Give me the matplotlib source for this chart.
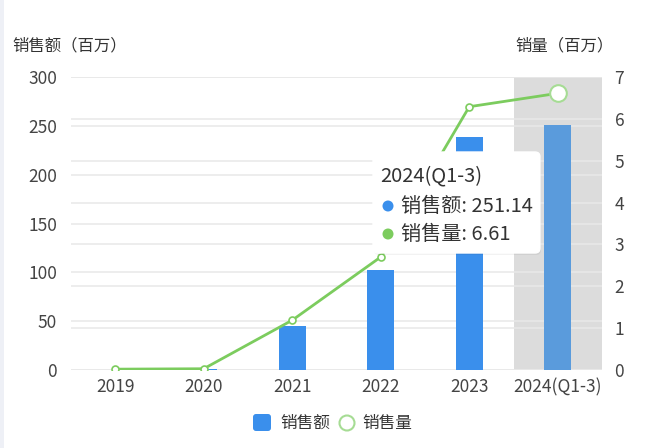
import matplotlib
matplotlib.use("Agg")
import matplotlib.pyplot as plt
from matplotlib.patches import FancyBboxPatch, Rectangle, Circle
from matplotlib.transforms import IdentityTransform, blended_transform_factory

plt.rcParams['font.family'] = ['Noto Sans CJK SC', 'DejaVu Sans']

categories = ['2019', '2020', '2021', '2022', '2023', '2024(Q1-3)']
sales_amount = [0.3, 1.5, 45.5, 102.5, 238.5, 251.14]   # 销售额（百万）
sales_volume = [0.02, 0.03, 1.19, 2.70, 6.29, 6.61]     # 销量（百万）
left_ticks = [0, 50, 100, 150, 200, 250, 300]
right_ticks = [0, 1, 2, 3, 4, 5, 6, 7]
highlight = 5
tooltip_title = '2024(Q1-3)'

W, H = 664, 448
fig = plt.figure(figsize=(W / 100, H / 100), dpi=100)
fig.patch.set_facecolor('white')

def fx(x):
    return x / W

def fy(y):
    return 1 - y / H

ax = fig.add_axes([fx(71), fy(370), fx(602) - fx(71), fy(77) - fy(370)])
ax2 = ax.twinx()

xs = list(range(len(categories)))
ax.set_xlim(-0.5, len(categories) - 0.5)
ax.set_ylim(0, 300)
ax2.set_ylim(0, 7)

# highlight band
ax.axvspan(highlight - 0.5, highlight + 0.5, color='#dcdcdc', zorder=0, lw=0)

# gridlines for both axes (under bars)
grid_c = '#e8e8e8'
for v in left_ticks:
    ax.axhline(v, color=grid_c, lw=1.1, zorder=0.5)
tr = blended_transform_factory(ax.transAxes, ax2.transData)
for v in right_ticks:
    ax.plot([0, 1], [v, v], transform=tr, color=grid_c, lw=1.1, zorder=0.5)

bar_colors = ['#3a8fec'] * len(categories)
bar_colors[highlight] = '#5a9bdc'
ax.bar(xs, sales_amount, width=0.3, color=bar_colors, zorder=2)

line_c = '#7ccc5e'
ax2.plot(xs, sales_volume, color=line_c, lw=2, zorder=3,
         marker='o', markersize=5, markerfacecolor='white',
         markeredgecolor=line_c, markeredgewidth=1.2)
ax2.plot([xs[highlight]], [sales_volume[highlight]], marker='o', markersize=12,
         markerfacecolor='white', markeredgecolor='#a6dc94', markeredgewidth=1.5,
         zorder=4, linestyle='none')

for a in (ax, ax2):
    for s in a.spines.values():
        s.set_visible(False)
    a.tick_params(length=0, colors='#444444', labelsize=12.5)

ax.set_xticks(xs)
ax.set_xticklabels(categories)
ax.tick_params(axis='x', pad=6)
ax.set_yticks(left_ticks)
ax.tick_params(axis='y', pad=10)
ax2.set_yticks(right_ticks)
ax2.tick_params(axis='y', pad=9)

# axis titles
fig.text(fx(12), fy(46), '销售额（百万）', fontsize=11.8, color='#333333',
         ha='left', va='center')
fig.text(fx(515), fy(46), '销量（百万）', fontsize=11.8, color='#333333',
         ha='left', va='center')

# left strip
fig.patches.append(Rectangle((0, 0), fx(4), 1, transform=fig.transFigure,
                             facecolor='#eef0f6', edgecolor='none', zorder=0))

# tooltip
pix = IdentityTransform()
shadow = FancyBboxPatch((374, H - 255), 167, 101, boxstyle='round,pad=0,rounding_size=5',
                        transform=pix, facecolor='#000000', alpha=0.05, edgecolor='none',
                        zorder=9)
fig.patches.append(shadow)
tip = FancyBboxPatch((373, H - 253), 167, 101, boxstyle='round,pad=0,rounding_size=5',
                     transform=pix, facecolor='white', edgecolor='#ffffff', lw=1,
                     zorder=10)
fig.patches.append(tip)
fig.text(fx(380), fy(176), tooltip_title, fontsize=14.5, color='#333333',
         ha='left', va='center', zorder=11)
fig.patches.append(Circle((388, H - 206), 5.5, transform=pix, facecolor='#3a8fec',
                          edgecolor='none', zorder=11))
fig.text(fx(401), fy(206), f'销售额: {sales_amount[highlight]:.2f}', fontsize=14.5,
         color='#333333', ha='left', va='center', zorder=11)
fig.patches.append(Circle((388, H - 234), 5.5, transform=pix, facecolor=line_c,
                          edgecolor='none', zorder=11))
fig.text(fx(401), fy(234), f'销售量: {sales_volume[highlight]:.2f}', fontsize=14.5,
         color='#333333', ha='left', va='center', zorder=11)

# legend
fig.patches.append(FancyBboxPatch((253, H - 431), 18, 17,
                                  boxstyle='round,pad=0,rounding_size=3', transform=pix,
                                  facecolor='#3a8fec', edgecolor='none', zorder=5))
fig.text(fx(280), fy(423), '销售额', fontsize=12, color='#333333',
         ha='left', va='center')
fig.patches.append(Circle((347, H - 423), 7.5, transform=pix, facecolor='white',
                          edgecolor='#a6dc94', lw=1.5, zorder=5))
fig.text(fx(362), fy(423), '销售量', fontsize=12, color='#333333',
         ha='left', va='center')

fig.savefig('out.png', dpi=100)
